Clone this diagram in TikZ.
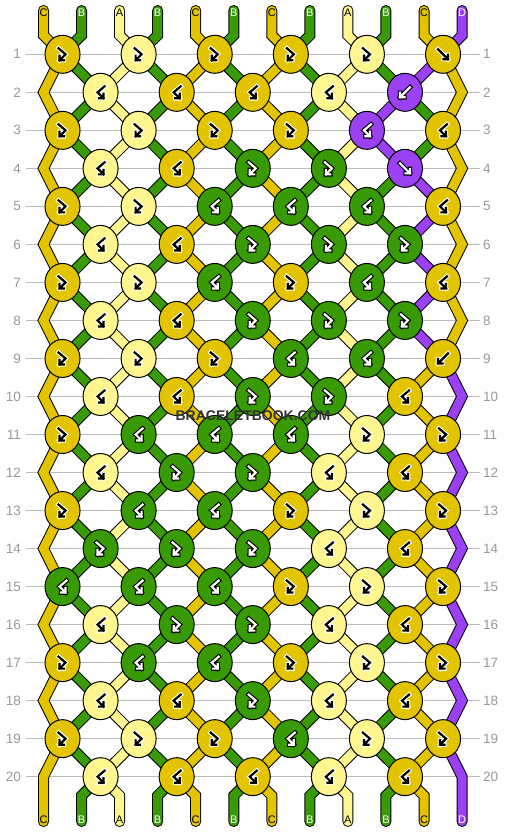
\documentclass[tikz,border=0pt]{standalone}
\usepackage{fontspec}
\setmainfont{Liberation Sans}
\usetikzlibrary{shapes.geometric}
\pgfdeclarelayer{grid}
\pgfdeclarelayer{strands}
\pgfsetlayers{grid,strands,main}
\definecolor{colA}{HTML}{FFF68F}
\definecolor{colB}{HTML}{389A05}
\definecolor{colC}{HTML}{E2C400}
\definecolor{colD}{HTML}{9B40F2}
\colorlet{fgA}{black}\colorlet{bgA}{white}
\colorlet{fgC}{black}\colorlet{bgC}{white}
\colorlet{fgB}{white}\colorlet{bgB}{black}
\colorlet{fgD}{white}\colorlet{bgD}{black}
\definecolor{rowgray}{HTML}{BBBBBB}
\definecolor{numgray}{HTML}{999999}
\definecolor{wmgray}{HTML}{333333}
\newcommand\glyphf[1]{\draw[#1,line cap=rect,line join=miter] (-5,-5) -- (5,5) (5,0.5) -- (5,5) -- (0.5,5);}
\newcommand\glyphb[1]{\draw[#1,line cap=rect,line join=miter] (5,-5) -- (-5,5) (-5,0.5) -- (-5,5) -- (-0.5,5);}
\newcommand\glyphg[1]{\draw[#1,line cap=rect,line join=miter] (-4,-6) -- (3,0) -- (-3,6) (-3,1.5) -- (-3,6) -- (1.5,6);}
\newcommand\glyphh[1]{\draw[#1,line cap=rect,line join=miter] (4,-6) -- (-3,0) -- (3,6) (3,1.5) -- (3,6) -- (-1.5,6);}
\tikzset{
  knot/.style={ellipse, draw=black, line width=1pt, minimum width=35pt, minimum height=38pt, inner sep=0pt},
  strandout/.style={draw=black, line width=11pt, line cap=round, line join=miter},
  strandin/.style={line width=9pt, line cap=round, line join=miter},
  rownum/.style={text=numgray, font=\fontsize{13.5}{14}\selectfont, inner sep=0pt},
  strlabel/.style={font=\fontsize{11}{12}\selectfont, inner sep=0pt},
  wm/.style={font=\fontsize{14}{15}\selectfont\bfseries, inner sep=0pt},
}
\begin{document}
\begin{tikzpicture}[x=1pt,y=-1pt]
\useasboundingbox (0,0) rectangle (506,832);
\begin{pgfonlayer}{grid}
\fill[white] (0,0) rectangle (506,832);
\end{pgfonlayer}
% row numbers and guide lines
\foreach \r in {1,...,20}{
  \pgfmathsetmacro\ky{54.3+38.02*(\r-1)}
  \node[rownum, anchor=east] (nl-\r) at (21,\ky) {\r};
  \node[rownum, anchor=west] (nr-\r) at (483,\ky) {\r};
  \begin{pgfonlayer}{grid}
  \draw[rowgray, line width=1pt] ([xshift=5pt]nl-\r.east) -- ([xshift=-3pt]nr-\r.west);
  \end{pgfonlayer}
}
% knots
\foreach \r/\lst in {
 1/{g/C,g/A,g/C,g/C,g/A,f/C},
 2/{h/A,h/C,h/C,h/A,b/D},
 3/{g/C,g/A,g/C,g/C,h/D,h/C},
 4/{h/A,h/C,g/B,g/B,f/D},
 5/{g/C,g/A,h/B,h/B,h/B,h/C},
 6/{h/A,h/C,g/B,g/B,g/B},
 7/{g/C,g/A,h/B,g/C,h/B,h/C},
 8/{h/A,h/C,g/B,g/B,g/B},
 9/{g/C,g/A,g/C,h/B,h/B,b/C},
 10/{h/A,h/C,g/B,g/B,h/C},
 11/{g/C,h/B,h/B,h/B,g/A,g/C},
 12/{h/A,g/B,g/B,h/A,h/C},
 13/{g/C,h/B,h/B,g/C,g/A,g/C},
 14/{g/B,g/B,g/B,h/A,h/C},
 15/{h/B,h/B,h/B,g/C,g/A,g/C},
 16/{h/A,g/B,g/B,h/A,h/C},
 17/{g/C,h/B,h/B,g/C,g/A,g/C},
 18/{h/A,h/C,g/B,h/A,h/C},
 19/{g/C,g/A,g/C,h/B,g/A,g/C},
 20/{h/A,h/C,h/C,h/A,h/C}}{
  \pgfmathsetmacro\ky{54.3+38.02*(\r-1)}
  \pgfmathsetmacro\kxo{mod(\r,2)==1 ? 62.525 : 100.575}
  \foreach \t/\c [count=\j] in \lst {
    \pgfmathsetmacro\kx{\kxo+76.1*(\j-1)}
    \node[knot, fill=col\c] (k-\r-\j) at (\kx,\ky) {};
    \begin{scope}[shift={(k-\r-\j.center)}]
      \csname glyph\t\endcsname{draw=bg\c, line width=4.4pt}
      \csname glyph\t\endcsname{draw=fg\c, line width=2.2pt}
    \end{scope}
  }
}
% string position points per row
\foreach \r in {1,...,20}{
  \pgfmathsetmacro\ky{54.3+38.02*(\r-1)}
  \pgfmathtruncatemacro\odd{mod(\r,2)}
  \foreach \i in {1,...,12}{
    \ifnum\odd=1
      \pgfmathtruncatemacro\kk{(\i+1)/2}
      \coordinate (p-\r-\i) at (k-\r-\kk.center);
    \else
      \ifnum\i=1 \coordinate (p-\r-\i) at (43.5,\ky);
      \else\ifnum\i=12 \coordinate (p-\r-\i) at (462.05,\ky);
      \else
        \pgfmathtruncatemacro\kk{\i/2}
        \coordinate (p-\r-\i) at (k-\r-\kk.center);
      \fi\fi
    \fi
  }
}
% string ends and labels
\foreach \i/\col in {1/C,2/B,3/A,4/B,5/C,6/B,7/C,8/B,9/A,10/B,11/C,12/D}{
  \pgfmathsetmacro\sx{43.5+38.05*(\i-1)}
  \coordinate (top-\i) at (\sx,10.5);
  \coordinate (tb-\i) at (\sx,35.3);
  \coordinate (bb-\i) at (\sx,795.7);
  \coordinate (bot-\i) at (\sx,821.5);
  \node[strlabel, text=fg\col] (lt-\i) at (\sx,12.5) {\col};
  \node[strlabel, text=fg\col] (lb-\i) at (\sx,820) {\col};
}
% strands
\begin{pgfonlayer}{strands}
\foreach \s/\col in {1/C,2/B,3/A,4/B,5/C,6/B,7/C,8/B,9/A}{
  \draw[strandout] (top-\s) -- (tb-\s) \foreach \rr in {1,...,20}{ -- (p-\rr-\s)} -- (bb-\s) -- (bot-\s);
  \draw[strandin, draw=col\col] (top-\s) -- (tb-\s) \foreach \rr in {1,...,20}{ -- (p-\rr-\s)} -- (bb-\s) -- (bot-\s);
}
\foreach \s/\col/\pl in {
  10/B/{10,10,11,11,10,10,10,10,10,10,10,10,10,10,10,10,10,10,10,10},
  11/C/{11,12,12,12,12,12,12,12,12,11,11,11,11,11,11,11,11,11,11,11},
  12/D/{12,11,10,10,11,11,11,11,11,12,12,12,12,12,12,12,12,12,12,12}}{
  \draw[strandout] (top-\s) -- (tb-\s) \foreach \pp [count=\rr] in \pl { -- (p-\rr-\pp)} -- (bb-\s) -- (bot-\s);
  \draw[strandin, draw=col\col] (top-\s) -- (tb-\s) \foreach \pp [count=\rr] in \pl { -- (p-\rr-\pp)} -- (bb-\s) -- (bot-\s);
}
\end{pgfonlayer}
% watermark
\node[wm, text=wmgray] (wm) at (253,415.5) {BRACELETBOOK.COM};
\end{tikzpicture}
\end{document}
